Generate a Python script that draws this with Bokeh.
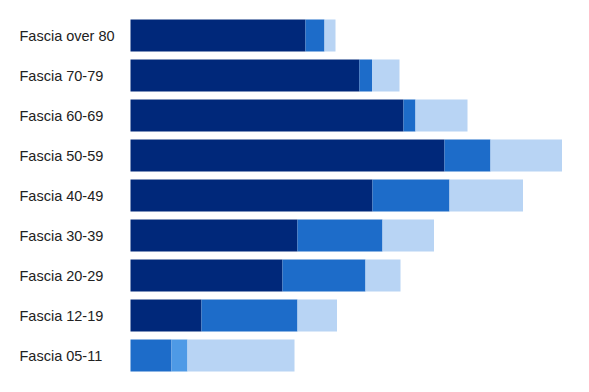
from bokeh.plotting import figure
from bokeh.models import ColumnDataSource, FactorRange, Range1d
from bokeh.core.properties import value
from bokeh.embed import file_html
from bokeh.resources import INLINE

categories = ["Fascia over 80", "Fascia 70-79", "Fascia 60-69", "Fascia 50-59",
              "Fascia 40-49", "Fascia 30-39", "Fascia 20-29", "Fascia 12-19",
              "Fascia 05-11"]
serie_a = [175, 229, 273, 314, 242, 167, 152, 71, 0]
serie_b = [19, 12.5, 12, 46, 77, 85, 83, 96, 41]
serie_c = [0, 0, 0, 0, 0, 0, 0, 0, 16]
serie_d = [11, 27.5, 52, 71.5, 73.5, 51.5, 35, 39.5, 107]

keys = ["a", "b", "c", "d"]
colors = ["#00287a", "#1d6cc9", "#4e9ae6", "#b8d4f4"]

source = ColumnDataSource(dict(cat=categories, a=serie_a, b=serie_b, c=serie_c,
                               d=serie_d, zero=[0] * len(categories)))

# frame starts at the label column (x=19); bars start at data 0 (x=130)
p = figure(width=573, height=384, output_backend="svg", toolbar_location=None,
           y_range=FactorRange(factors=list(reversed(categories))),
           x_range=Range1d(-111, 443),
           min_border_left=19, min_border_right=0, min_border_top=15,
           min_border_bottom=9, outline_line_color=None)
p.axis.visible = False
p.grid.visible = False

p.hbar_stack(keys, y="cat", height=0.8, color=colors, line_color=None,
             source=source)

p.text(x="zero", y="cat", text="cat", source=source, x_offset=-111,
       text_align="left", text_baseline="middle",
       text_font=value("Liberation Sans"), text_font_size="14.5px",
       text_color="#222222")

open("out.html", "w").write(file_html(p, INLINE))
